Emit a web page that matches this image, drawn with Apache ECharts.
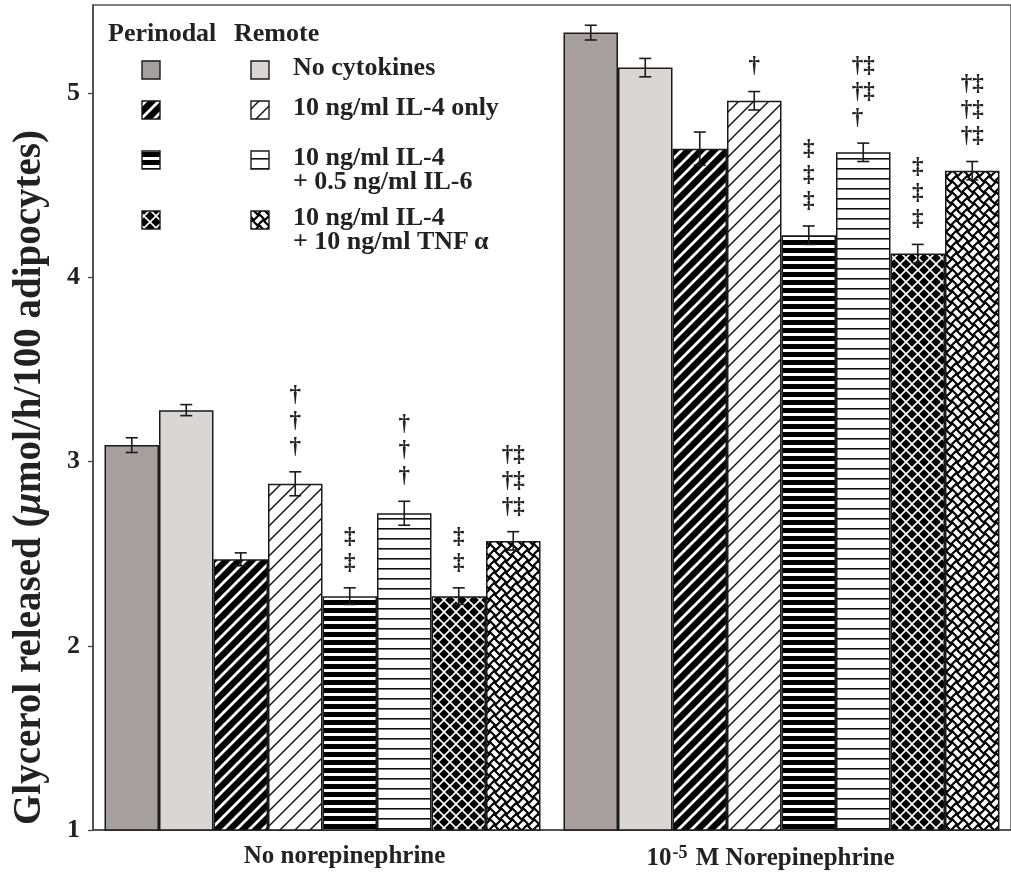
<!DOCTYPE html>
<html>
<head>
<meta charset="utf-8">
<script src="https://cdn.jsdelivr.net/npm/echarts@6/dist/echarts.min.js"></script>
<style>
html,body{margin:0;padding:0;background:#fff;}
#chart{width:1011px;height:876px;}
</style>
</head>
<body>
<div id="chart"></div>
<script>
// ---------- data ----------
const categories = ['No norepinephrine', '10-5 M Norepinephrine'];
const seriesNames = [
  'Perinodal: No cytokines', 'Remote: No cytokines',
  'Perinodal: 10 ng/ml IL-4 only', 'Remote: 10 ng/ml IL-4 only',
  'Perinodal: 10 ng/ml IL-4 + 0.5 ng/ml IL-6', 'Remote: 10 ng/ml IL-4 + 0.5 ng/ml IL-6',
  'Perinodal: 10 ng/ml IL-4 + 10 ng/ml TNF\u03b1', 'Remote: 10 ng/ml IL-4 + 10 ng/ml TNF\u03b1'
];
const perinodalNoCyto = [3.09, 5.33];
const remoteNoCyto    = [3.28, 5.14];
const perinodalIL4    = [2.47, 4.70];
const remoteIL4       = [2.88, 4.96];
const perinodalIL6    = [2.27, 4.23];
const remoteIL6       = [2.72, 4.68];
const perinodalTNF    = [2.27, 4.13];
const remoteTNF       = [2.57, 4.58];

const errPerinodalNoCyto = [0.04, 0.04];
const errRemoteNoCyto    = [0.03, 0.05];
const errPerinodalIL4    = [0.035, 0.09];
const errRemoteIL4       = [0.065, 0.05];
const errPerinodalIL6    = [0.045, 0.05];
const errRemoteIL6       = [0.065, 0.05];
const errPerinodalTNF    = [0.045, 0.05];
const errRemoteTNF       = [0.05, 0.05];

// significance marks above bars, per category
const marksPerinodalNoCyto = ['', ''];
const marksRemoteNoCyto    = ['', ''];
const marksPerinodalIL4    = ['', ''];
const marksRemoteIL4       = ['\u2020\n\u2020\n\u2020', '\u2020'];
const marksPerinodalIL6    = ['\u2021\n\u2021', '\u2021\n\u2021\n\u2021'];
const marksRemoteIL6       = ['\u2020\n\u2020\n\u2020', '\u2020\u2021\n\u2020\u2021\n\u2020\u2002'];
const marksPerinodalTNF    = ['\u2021\n\u2021', '\u2021\n\u2021\n\u2021'];
const marksRemoteTNF       = ['\u2020\u2021\n\u2020\u2021\n\u2020\u2021', '\u2020\u2021\n\u2020\u2021\n\u2020\u2021'];

const yTicks = [1, 2, 3, 4, 5];

const legendLabels = [
  'No cytokines',
  '10 ng/ml IL-4 only',
  '10 ng/ml IL-4\n+ 0.5 ng/ml IL-6',
  '10 ng/ml IL-4\n+ 10 ng/ml TNF\u2009\u03b1'
];

const values = [perinodalNoCyto, remoteNoCyto, perinodalIL4, remoteIL4, perinodalIL6, remoteIL6, perinodalTNF, remoteTNF];
const errors = [errPerinodalNoCyto, errRemoteNoCyto, errPerinodalIL4, errRemoteIL4, errPerinodalIL6, errRemoteIL6, errPerinodalTNF, errRemoteTNF];
const marks  = [marksPerinodalNoCyto, marksRemoteNoCyto, marksPerinodalIL4, marksRemoteIL4, marksPerinodalIL6, marksRemoteIL6, marksPerinodalTNF, marksRemoteTNF];

// ---------- patterns ----------
function tile(w, h, draw) {
  const c = document.createElement('canvas');
  c.width = w; c.height = h;
  const g = c.getContext('2d');
  draw(g, w, h);
  return c;
}
function diag(g, w, lw, color, dir) {
  g.strokeStyle = color; g.lineWidth = lw; g.lineCap = 'square';
  for (let k = -1; k <= 1; k++) {
    g.beginPath();
    if (dir > 0) { g.moveTo(k * w, w); g.lineTo(k * w + w, 0); }
    else { g.moveTo(k * w, 0); g.lineTo(k * w + w, w); }
    g.stroke();
  }
}
// basket weave rotated by 45 degrees
function weave(g, w) {
  g.fillStyle = '#000'; g.fillRect(0, 0, w, w);
  const p = w / Math.SQRT2, c = p / 2;
  g.save();
  g.translate(w / 2, w / 2);
  g.rotate(Math.PI / 4);
  g.fillStyle = '#fff';
  for (let i = -4; i < 4; i++) {
    for (let j = -4; j < 4; j++) {
      const x0 = i * c, y0 = j * c;
      const horiz = ((i + j) % 2 + 2) % 2 === 0;
      if (horiz) g.fillRect(x0 + 0.4, y0 + c * 0.22, c - 0.8, c * 0.56);
      else g.fillRect(x0 + c * 0.22, y0 + 0.4, c * 0.56, c - 0.8);
    }
  }
  g.restore();
}
const tiles = [
  null,
  null,
  tile(13, 13, (g, w) => { g.fillStyle = '#000'; g.fillRect(0, 0, w, w); diag(g, w, 2.8, '#fff', 1); }),
  tile(15, 15, (g, w) => { g.fillStyle = '#fff'; g.fillRect(0, 0, w, w); diag(g, w, 1.4, '#111', 1); }),
  tile(8, 8, (g, w, h) => { g.fillStyle = '#000'; g.fillRect(0, 0, w, h); g.fillStyle = '#fff'; g.fillRect(0, 5, w, 3); }),
  tile(8, 10, (g, w, h) => { g.fillStyle = '#fff'; g.fillRect(0, 0, w, h); g.fillStyle = '#111'; g.fillRect(0, 8, w, 1.6); }),
  tile(12, 12, (g, w) => { g.fillStyle = '#000'; g.fillRect(0, 0, w, w); diag(g, w, 1.6, '#fff', 1); diag(g, w, 1.6, '#fff', -1); }),
  tile(22, 22, (g, w) => weave(g, w))
];
const fills = [
  '#a79f9f', '#dbd6d6',
  { image: tiles[2], repeat: 'repeat' },
  { image: tiles[3], repeat: 'repeat' },
  { image: tiles[4], repeat: 'repeat' },
  { image: tiles[5], repeat: 'repeat' },
  { image: tiles[6], repeat: 'repeat' },
  { image: tiles[7], repeat: 'repeat' }
];

// ---------- chart ----------
const FONT = '"Liberation Serif", "Times New Roman", serif';
const BAR_W = 54.5;
const chart = echarts.init(document.getElementById('chart'));

const barSeries = values.map((v, i) => ({
  name: seriesNames[i],
  type: 'bar',
  data: v,
  barWidth: BAR_W,
  barGap: '0%',
  itemStyle: { color: fills[i], borderColor: '#1a1a1a', borderWidth: 1.5 },
  z: 2
}));

const errData = [];
const errMarks = [];
for (let si = 0; si < values.length; si++) {
  for (let c = 0; c < categories.length; c++) {
    errData.push([c, values[si][c], errors[si][c], si]);
    errMarks.push(marks[si][c]);
  }
}

function renderErr(params, api) {
  const c = api.value(0), v = api.value(1), e = api.value(2), si = api.value(3);
  const pTop = api.coord([c, v + e]);
  const pBot = api.coord([c, v - e]);
  const x = pTop[0] + (si - 3.5) * BAR_W;
  const cap = 6;
  const st = { stroke: '#1a1a1a', lineWidth: 1.6 };
  const children = [
    { type: 'line', shape: { x1: x, y1: pTop[1], x2: x, y2: pBot[1] }, style: st },
    { type: 'line', shape: { x1: x - cap, y1: pTop[1], x2: x + cap, y2: pTop[1] }, style: st },
    { type: 'line', shape: { x1: x - cap, y1: pBot[1], x2: x + cap, y2: pBot[1] }, style: st }
  ];
  const m = errMarks[params.dataIndex];
  if (m) {
    children.push({
      type: 'text', x: x, y: pTop[1] - 12,
      style: { text: m, fontFamily: FONT, fontWeight: 'bold', fontSize: 23, lineHeight: 26,
               align: 'center', verticalAlign: 'bottom', fill: '#222' }
    });
  }
  return { type: 'group', children: children };
}

// legend drawn with graphic elements
const legendGraphics = [
  { type: 'text', left: 108, top: 21, style: { text: 'Perinodal', fontFamily: FONT, fontWeight: 'bold', fontSize: 26, fill: '#222' } },
  { type: 'text', left: 234, top: 21, style: { text: 'Remote', fontFamily: FONT, fontWeight: 'bold', fontSize: 26, fill: '#222' } }
];
const rowY = [70, 110, 160, 220];
for (let r = 0; r < 4; r++) {
  legendGraphics.push({ type: 'rect', shape: { x: 142, y: rowY[r] - 9, width: 18, height: 18 },
    style: { fill: fills[r * 2], stroke: '#1a1a1a', lineWidth: 1.4 } });
  legendGraphics.push({ type: 'rect', shape: { x: 251, y: rowY[r] - 9, width: 18, height: 18 },
    style: { fill: fills[r * 2 + 1], stroke: '#1a1a1a', lineWidth: 1.4 } });
  legendGraphics.push({ type: 'text', x: 293, y: rowY[r] - 13,
    style: { text: legendLabels[r], fontFamily: FONT, fontWeight: 'bold', fontSize: 26, lineHeight: 23.5,
             fill: '#222', verticalAlign: 'top' } });
}

chart.setOption({
  animation: false,
  backgroundColor: '#fff',
  grid: { left: 93, right: 0, top: 5, bottom: 46, containLabel: false, outerBoundsMode: 'none',
          show: true, borderColor: '#555', borderWidth: 1.5 },
  xAxis: {
    type: 'category',
    data: categories,
    axisLine: { lineStyle: { color: '#444', width: 1.5 } },
    axisTick: { alignWithLabel: true, interval: 0, length: 9, lineStyle: { color: '#444', width: 1.3 } },
    axisLabel: {
      interval: 0, hideOverlap: false,
      margin: 14, color: '#222', fontFamily: FONT, fontWeight: 'bold', fontSize: 25,
      formatter: function (v) {
        if (v.indexOf('10-5') === 0) return '{b|10}{sup|-5}{b| ' + v.slice(5) + '}{pr|}';
        return '{pl|}{b|' + v + '}';
      },
      rich: {
        b: { fontFamily: FONT, fontWeight: 'bold', fontSize: 25, color: '#222' },
        pl: { width: 44 },
        pr: { width: 22 },
        sup: { fontFamily: FONT, fontWeight: 'bold', fontSize: 18, verticalAlign: 'bottom', padding: [0, 2, 11, 1], color: '#222' }
      }
    }
  },
  yAxis: {
    type: 'value', min: 1, max: 5.48,
    name: 'Glycerol released ({mu|\u03bc}mol/h/100 adipocytes)',
    nameLocation: 'middle', nameRotate: 90, nameGap: 44,
    nameTextStyle: { fontFamily: FONT, fontWeight: 'bold', fontSize: 39, color: '#222', padding: [0, 120, 0, 0],
      rich: { mu: { fontFamily: FONT, fontWeight: 'bold', fontStyle: 'italic', fontSize: 39, color: '#222' } } },
    splitLine: { show: false },
    axisLine: { show: true, lineStyle: { color: '#444', width: 1.5 } },
    axisTick: { show: true, length: 5, customValues: yTicks, lineStyle: { color: '#444', width: 1.3 } },
    axisLabel: { customValues: yTicks, margin: 13, color: '#222', fontFamily: FONT, fontWeight: 'bold', fontSize: 26 }
  },
  graphic: legendGraphics,
  series: barSeries.concat([{
    type: 'custom',
    name: 'SEM',
    renderItem: renderErr,
    data: errData,
    encode: { x: 0, y: 1 },
    z: 5,
    silent: true
  }])
});
</script>
</body>
</html>
